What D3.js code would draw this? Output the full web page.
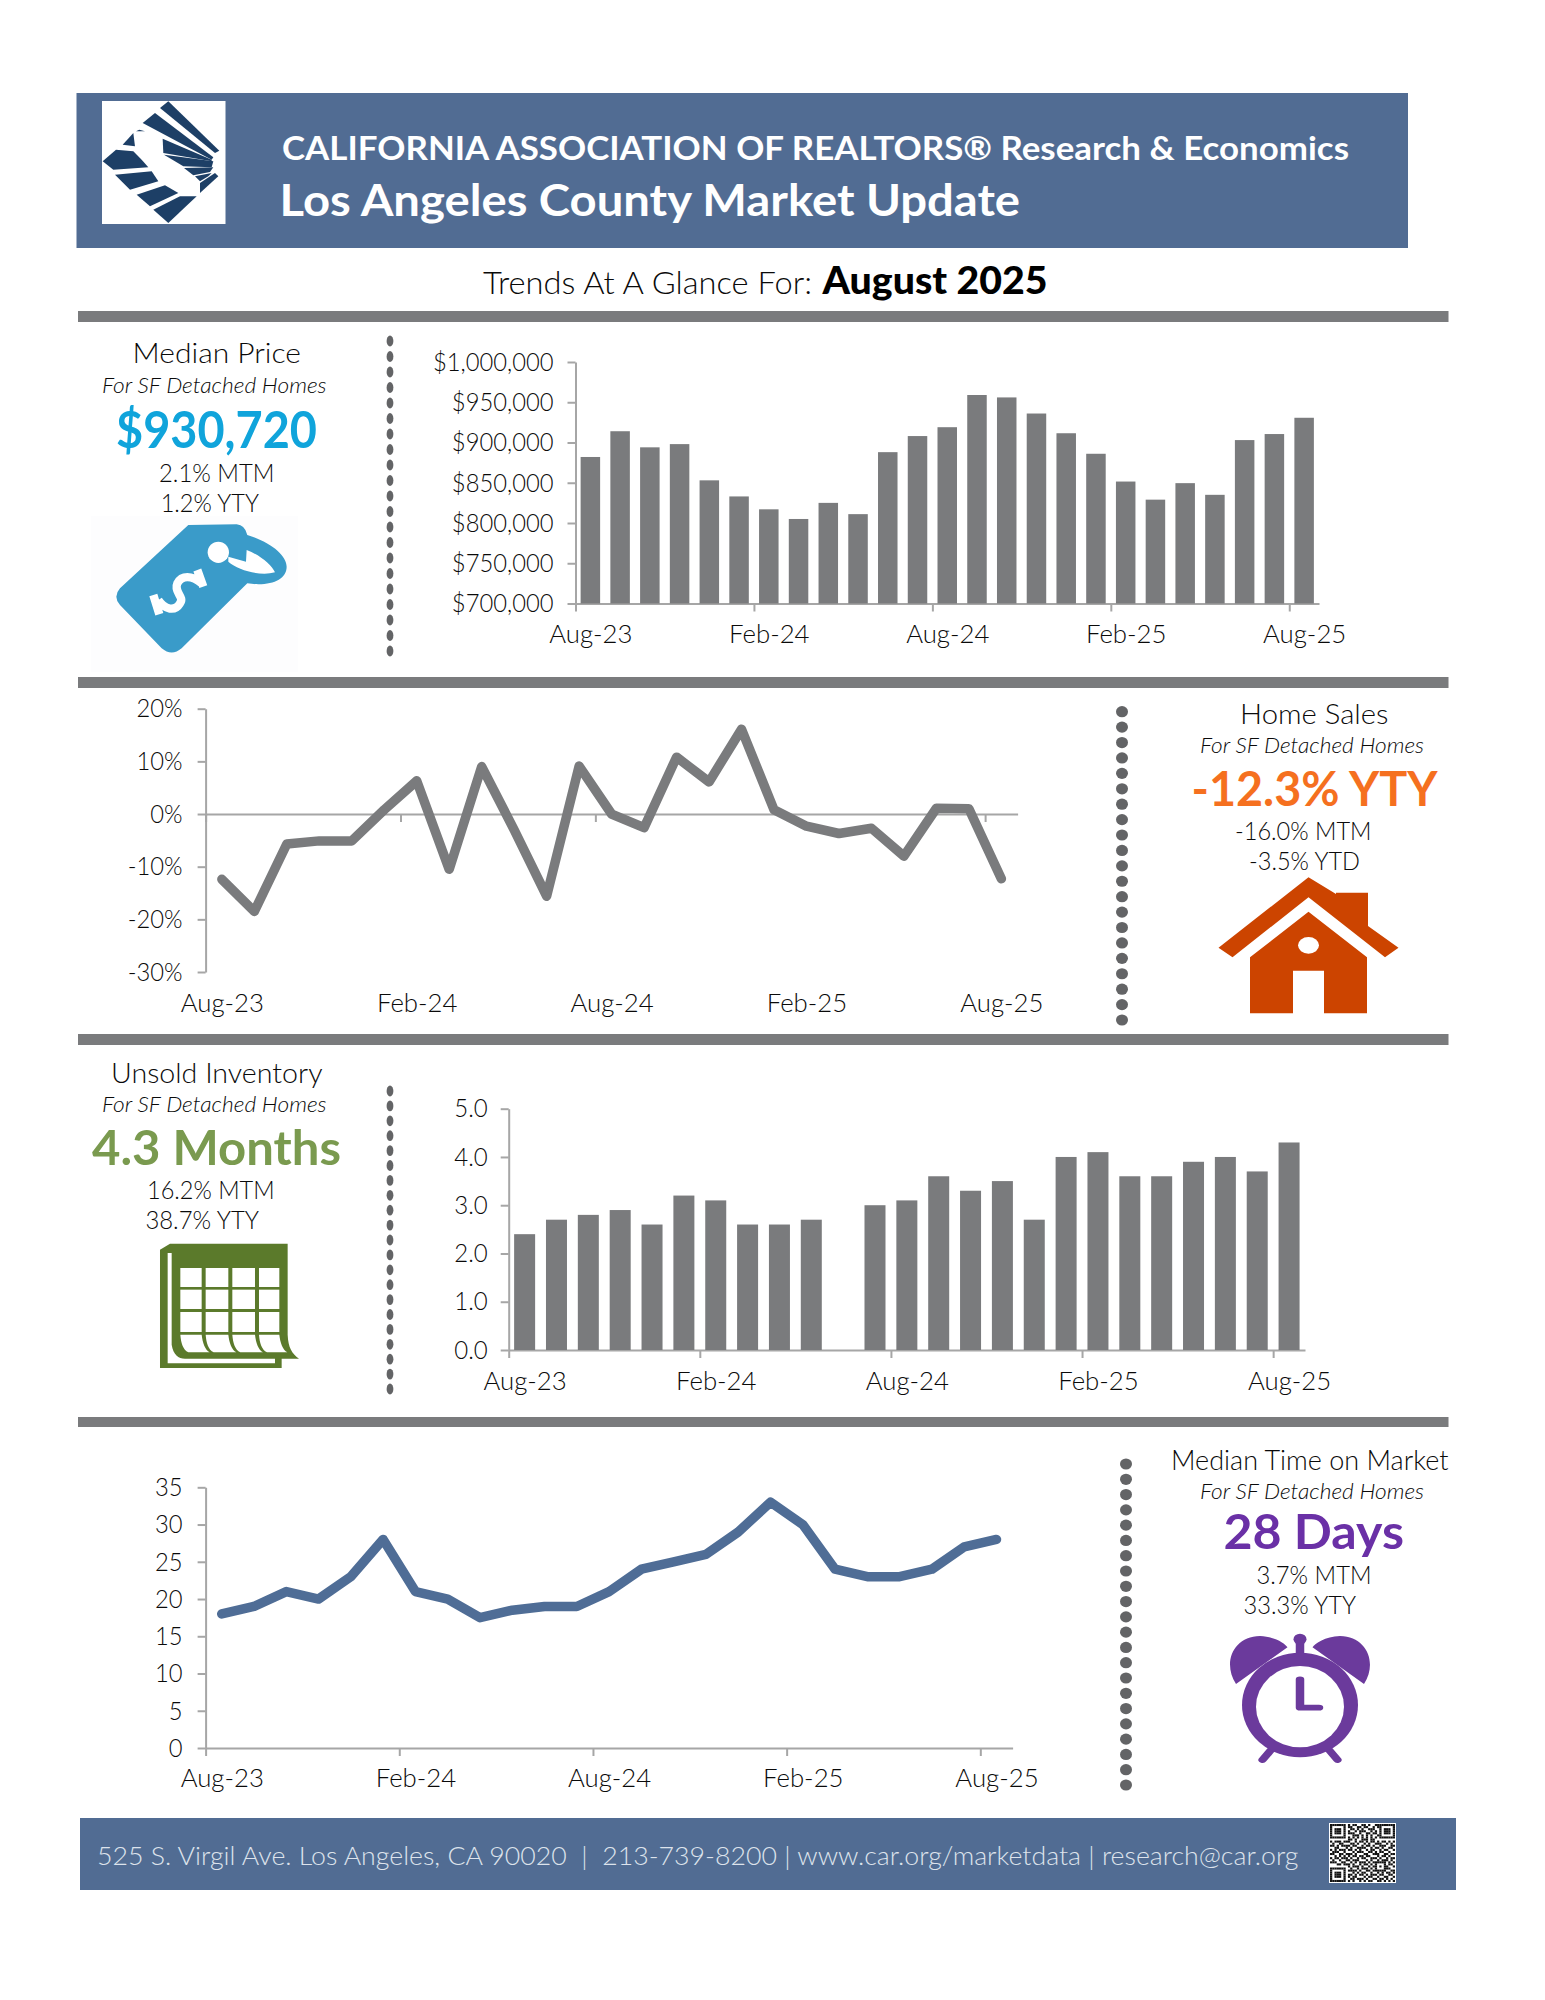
<!DOCTYPE html>
<html><head><meta charset="utf-8">
<script src="https://cdn.jsdelivr.net/npm/d3@7/dist/d3.min.js"></script>
<style>html,body{margin:0;background:#fff}svg{display:block}text{font-family:Lato,"Open Sans",sans-serif}</style>
</head><body><svg id="c" width="1545" height="2000"></svg>
<script>
const monthLabels=["Aug-23","Sep-23","Oct-23","Nov-23","Dec-23","Jan-24","Feb-24","Mar-24","Apr-24","May-24","Jun-24","Jul-24","Aug-24","Sep-24","Oct-24","Nov-24","Dec-24","Jan-25","Feb-25","Mar-25","Apr-25","May-25","Jun-25","Jul-25","Aug-25"];
const labelledIndexes=[0,6,12,18,24];
const medianPrice=[882000,914000,894000,898000,853000,833000,817000,805000,825000,811000,888000,908000,919000,959000,956000,936000,911500,886000,851500,829000,849500,835000,903000,910500,930720];
const priceTicks=[700000,750000,800000,850000,900000,950000,1000000];
const salesYoY=[-12.4,-18.5,-5.7,-5.1,-5.1,0.8,6.3,-10.5,9.0,-3,-15.6,9.1,0,-2.6,10.8,6.1,16.1,0.8,-2.3,-3.7,-2.7,-8,1.1,1.0,-12.3];
const salesTicks=[-30,-20,-10,0,10,20];
const inventory=[2.4,2.7,2.8,2.9,2.6,3.2,3.1,2.6,2.6,2.7,null,3.0,3.1,3.6,3.3,3.5,2.7,4.0,4.1,3.6,3.6,3.9,4.0,3.7,4.3];
const inventoryTicks=[0,1,2,3,4,5];
const daysOnMarket=[18,19,21,20,23,28,21,20,17.5,18.5,19,19,21,24,25,26,29,33,30,24,23,23,24,27,28];
const daysTicks=[0,5,10,15,20,25,30,35];
const qrRows=["11111110101100110100111111111","10000010110011011001011000001","10111010011010100111001011101","10111010100101110010101011101","10111010111001001101101011101","10000010001110101010011000001","11111110101010101010101111111","00000000110100111011000000000","10111011100101101011010110101","01001100011010010100111001010","11010111101100101101001110011","00110001010011110010110100110","10101110110101001011001011001","01110010001011100110101100100","11001101110100011001110011011","00101010101101101100010110100","10110111010010110011101001011","01001001101110001010010111010","11100110010101110101111110101","00011011101001011010100010110","00000000101110100101101011001","11111110010010111010100011100","10000010111101001101111110011","10111010001010110010010101101","10111010110101101011101100110","10111010101100010110010011001","10000010011011101001101101010","11111110101001010110011010101"];
const GREY="#7a7b7d",BLUE="#516c93",AXIS="#a6a6a6",INK="#0a0a0a";
const svg=d3.select("#c");
function rect(x0,y0,x1,y1,f){return svg.append("rect").attr("x",x0).attr("y",y0).attr("width",x1-x0).attr("height",y1-y0).attr("fill",f);}
function txt(s,x0,x1,base,size,o={}){
  return svg.append("text").text(s).attr("x",x0).attr("y",base+(size<26?.4:1)).attr("font-size",size)
   .attr("textLength",x1-x0).attr("lengthAdjust","spacingAndGlyphs")
   .attr("fill",o.fill||INK).attr("font-weight",o.w||400).attr("font-style",o.i?"italic":"normal");
}
function dots(x,y0,y1,n,rx,ry){
  const ys=d3.scaleLinear().domain([0,n-1]).range([y0,y1]);
  svg.append("g").attr("fill","#636466").selectAll("ellipse").data(d3.range(n)).join("ellipse")
    .attr("cx",x).attr("cy",i=>ys(i)).attr("rx",rx).attr("ry",ry);
}
function drawAxes(c){
  const n=monthLabels.length;
  const xi=d3.scaleLinear().domain([0,n]).range([c.x0,c.x1]);
  const y=d3.scaleLinear().domain(d3.extent(c.ticks)).range([c.yb,c.yt]);
  const xBase=y(c.base);
  const gx=svg.append("g").attr("transform",`translate(0,${xBase})`)
    .call(d3.axisBottom(xi).tickValues(labelledIndexes).tickSize(8).tickSizeOuter(0).tickFormat(i=>monthLabels[i]));
  const gy=svg.append("g").attr("transform",`translate(${c.x0},0)`)
    .call(d3.axisLeft(y).tickValues(c.ticks).tickSize(8).tickSizeOuter(0).tickPadding(c.pad).tickFormat(c.fmt));
  [gx,gy].forEach(g=>{g.selectAll("path,line").attr("stroke",AXIS).attr("stroke-width",2);
    g.selectAll("text").attr("fill",INK).attr("font-size",25).attr("font-family","Lato").attr("font-weight",300);});
  gx.selectAll("text").attr("x",(xi(1)-xi(0))/2).attr("y",c.labelBase-xBase).attr("dy",0);
  gy.selectAll("text").attr("dy","0.33em");
  const fit=(g,k)=>g.selectAll("text").each(function(){
    const w=this.getComputedTextLength();
    d3.select(this).attr("textLength",w*k).attr("lengthAdjust","spacingAndGlyphs");});
  fit(gx,1.03);fit(gy,c.ky);
  const band=d3.scaleBand().domain(monthLabels).range([c.x0,c.x1]);
  return {band,y};
}
function barChart(c,values){
  const {band,y}=drawAxes(c);
  const w=c.bar;
  svg.append("g").attr("fill",GREY).selectAll("rect").data(values.map((v,i)=>({v,m:monthLabels[i]})).filter(d=>d.v!==null)).join("rect")
    .attr("x",d=>band(d.m)+(band.bandwidth()-w)/2).attr("width",w)
    .attr("y",d=>y(d.v)).attr("height",d=>c.yb-y(d.v));
}
function lineChart(c,values,color){
  const {band,y}=drawAxes(c);
  const l=d3.line().x((d,i)=>band(monthLabels[i])+band.bandwidth()/2).y(d=>y(d));
  svg.append("path").attr("d",l(values)).attr("fill","none").attr("stroke",color).attr("stroke-width",9.5)
    .attr("stroke-linejoin","round").attr("stroke-linecap","round");
}

/* banners and rules */
rect(76.5,93,1408,248,BLUE);
rect(102,101,225.5,224,"#fff");
[[311,322],[677,688],[1034,1045],[1417,1427]].forEach(r=>rect(78,r[0],1448.5,r[1],GREY));
rect(80,1818,1456,1890,BLUE);

/* logo */
const logoPolys=[[[180,30],[205,10],[358,158],[345,165]],[[128,75],[165,45],[340,178],[335,185]],[[188,122],[335,185],[335,190],[190,165]],[[192,170],[340,190],[335,208],[250,205]],[[252,210],[340,208],[330,222],[280,232]],[[285,235],[335,225],[325,235],[300,250]],[[300,255],[345,225],[355,235],[300,285]],[[8,190],[48,155],[100,160],[125,185],[145,208],[40,215]],[[45,230],[155,220],[175,250],[90,275]],[[110,290],[195,262],[235,285],[150,325]],[[160,335],[240,295],[290,295],[205,375]],[[68,140],[100,105],[105,145]],[[108,100],[118,95],[135,100]]];
svg.append("g").attr("transform","translate(100,98) scale(.3333)").attr("fill","#1d3f66")
  .selectAll("polygon").data(logoPolys).join("polygon").attr("points",d=>d.join(" "));

/* heading */
txt("CALIFORNIA ASSOCIATION OF REALTORS® Research & Economics",282,1349,159,33,{fill:"#fff",w:700});
txt("Los Angeles County Market Update",279.6,1020,215,43,{fill:"#fff",w:700});
txt("Trends At A Glance For:",483,812,293,31,{w:300});
txt("August 2025",822.5,1047.5,293,37,{fill:"#000",w:900});

/* Median price */
txt("Median Price",132.6,301,362,27,{w:300});
txt("For SF Detached Homes",102,326.5,393,21,{i:1,w:300});
txt("$930,720",116,317,447,52,{fill:"#10a4db",w:700});
txt("2.1% MTM",159,274.5,482,25,{w:300});
txt("1.2% YTY",160.7,259,512,25,{w:300});
rect(91,516,298,672,"#fdfdfe");
const tag=svg.append("g").attr("transform","translate(90,515) scale(.3333)");
tag.append("path").attr("fill","#3a9bc9").attr("d","M295,30 L440,28 Q465,30 472,60 C540,80 590,120 590,155 C590,195 540,215 472,205 L275,400 Q245,425 215,400 L90,270 Q68,245 90,220 Z");
tag.append("path").attr("fill","#fff").attr("d","M415,125 L468,140 L470,105 C510,120 545,150 555,172 C510,185 445,165 415,140 Z");
tag.append("circle").attr("cx",385).attr("cy",112).attr("r",32).attr("fill","#fff");
tag.append("path").attr("fill","none").attr("stroke","#fff").attr("stroke-width",25).attr("d","M335,205 C305,180 275,180 262,205 C250,232 285,245 270,265 C255,290 225,285 205,255 M322,165 L340,215 M190,240 L208,298");
dots(390,341,651,21,3.4,5.4);
barChart({x0:575.5,x1:1319,yt:362,yb:603.5,ticks:priceTicks,base:700000,pad:14,labelBase:643,ky:.95,bar:19.5,fmt:d3.format("$,")},medianPrice);

/* Home sales */
lineChart({x0:205.6,x1:1017.6,yt:708.7,yb:972,ticks:salesTicks,base:0,pad:15,labelBase:1012,ky:.95,fmt:d=>d+"%"},salesYoY,GREY);
dots(1122,711.7,1020,21,6,5.6);
txt("Home Sales",1240,1388.5,722.7,27,{w:300});
txt("For SF Detached Homes",1200,1424,753,21,{i:1,w:300});
txt("-12.3% YTY",1191.5,1437.5,805,48,{fill:"#f5701f",w:700});
txt("-16.0% MTM",1235,1371.5,840,25,{w:300});
txt("-3.5% YTD",1249,1360,870,25,{w:300});
const house=svg.append("g").attr("transform","translate(760,670) scale(.5,.3333)").attr("fill","#cc4400");
house.append("path").attr("d","M1097,622 L1152,672 V668 H1216 V768 L1277,833 L1250,862 L1097,682 L945,862 L917,833 Z");
house.append("path").attr("d","M1097,725 L1214,862 V1030 H1128 V902 H1066 V1030 H980 V862 Z");
house.append("ellipse").attr("cx",1097).attr("cy",826).attr("rx",21).attr("ry",25).attr("fill","#fff");

/* Unsold inventory */
txt("Unsold Inventory",111,322.5,1081.7,27,{w:300});
txt("For SF Detached Homes",102,326.5,1111.7,21,{i:1,w:300});
txt("4.3 Months",92,341,1164,48,{fill:"#7a9a4f",w:700});
txt("16.2% MTM",147,274.5,1199,25,{w:300});
txt("38.7% YTY",145.4,259,1229,25,{w:300});
const cal=svg.append("g").attr("transform","translate(155,1238) scale(.3333)");
cal.append("path").attr("fill","#5b7a2b").attr("d","M15,35 L45,17 H398 V290 C400,330 410,345 432,362 H380 V390 H15 Z");
cal.append("path").attr("fill","#fff").attr("d","M38,45 H50 V320 C55,350 70,362 90,362 H360 V376 H38 Z");
const calX=[[76,140],[152,220],[232,300],[312,373]],calY=[[90,147],[155,213],[222,282]];
calY.forEach(r=>calX.forEach(c=>cal.append("rect").attr("x",c[0]).attr("y",r[0]).attr("width",c[1]-c[0]).attr("height",r[1]-r[0]).attr("fill","#fff")));
calX.forEach(c=>cal.append("path").attr("fill","#fff").attr("d",`M${c[0]},290 H${c[1]} C${c[1]+3},315 ${c[1]+10},335 ${c[1]+24},343 H${c[0]+24} C${c[0]+8},335 ${c[0]+2},315 ${c[0]},290 Z`));
dots(390,1091,1389,21,3.4,5.4);
barChart({x0:508.7,x1:1305,yt:1108.7,yb:1350,ticks:inventoryTicks,base:0,pad:13,labelBase:1390,ky:.96,bar:21,fmt:d3.format(".1f")},inventory);

/* Days on market */
lineChart({x0:205.6,x1:1012.6,yt:1487.3,yb:1748,ticks:daysTicks,base:0,pad:15,labelBase:1787,ky:.95,fmt:d=>d},daysOnMarket,"#4f6d96");
dots(1126,1464,1785,22,6,5.6);
txt("Median Time on Market",1171,1448.5,1469,27,{w:300});
txt("For SF Detached Homes",1200,1424,1499,21,{i:1,w:300});
txt("28 Days",1223.5,1404,1548,48,{fill:"#6a30a6",w:700});
txt("3.7% MTM",1256.5,1371.5,1584,25,{w:300});
txt("33.3% YTY",1243.5,1356,1614,25,{w:300});
const clk=svg.append("g").attr("transform","translate(760,1410) scale(.5,.3333)");
const PUR="#6b3a9c";
clk.append("path").attr("fill",PUR).attr("d","M952,822 C925,760 945,680 1000,678 C1030,680 1050,700 1055,712 Z M1208,822 C1235,760 1215,680 1160,678 C1130,680 1110,700 1105,712 Z");
[[1022,1020,1005,1050],[1138,1020,1155,1050],[1080,690,1080,740]].forEach(s=>clk.append("line").attr("x1",s[0]).attr("y1",s[1]).attr("x2",s[2]).attr("y2",s[3]).attr("stroke",PUR).attr("stroke-width",17).attr("stroke-linecap","round"));
clk.append("ellipse").attr("cx",1080).attr("cy",688).attr("rx",13).attr("ry",17).attr("fill",PUR);
clk.append("ellipse").attr("cx",1080).attr("cy",885).attr("rx",116).attr("ry",157).attr("fill",PUR);
clk.append("ellipse").attr("cx",1080).attr("cy",890).attr("rx",88).attr("ry",122).attr("fill","#fff");
clk.append("path").attr("d","M1080,808 V893 H1118").attr("fill","none").attr("stroke",PUR).attr("stroke-width",17).attr("stroke-linecap","round").attr("stroke-linejoin","round");

/* footer */
txt("525 S. Virgil Ave. Los Angeles, CA 90020 \u00a0| \u00a0213-739-8200 | www.car.org/marketdata | research@car.org",97,1298.5,1864,26,{fill:"#dde3ec",w:300});
rect(1329,1823,1396,1883,"#fff");
const qx=d3.scaleLinear().domain([0,29]).range([1330,1395]),qy=d3.scaleLinear().domain([0,28]).range([1824,1882]);
const qrCells=[];qrRows.forEach((r,j)=>[...r].forEach((c,i)=>{if(c==="1")qrCells.push([i,j]);}));
svg.append("g").attr("fill","#111").selectAll("rect").data(qrCells).join("rect")
  .attr("x",d=>qx(d[0])).attr("y",d=>qy(d[1])).attr("width",qx(1)-qx(0)).attr("height",qy(1)-qy(0));
</script></body></html>
